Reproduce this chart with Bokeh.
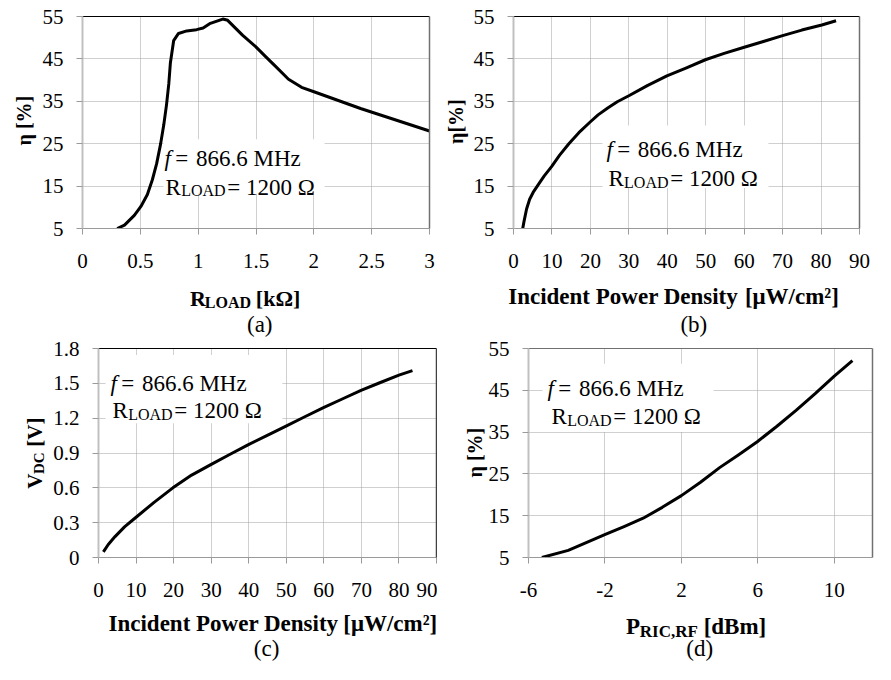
import math
from bokeh.plotting import figure
from bokeh.models import Range1d, FixedTicker, LinearAxis, Label, GridBox
from bokeh.layouts import row, column
from bokeh.embed import file_html
from bokeh.resources import INLINE

# ---------------- data ----------------
# (a) efficiency vs load resistance
a_rload = [0.30, 0.363, 0.448, 0.505, 0.561, 0.604, 0.641, 0.675, 0.703, 0.726, 0.746,
           0.760, 0.788, 0.830, 0.901, 0.986, 1.043, 1.099, 1.213, 1.255, 1.383, 1.497,
           1.581, 1.667, 1.781, 1.894, 2.007, 2.404, 3.0]
a_eta = [5.0, 5.8, 8.1, 10.2, 13.0, 16.5, 20.3, 24.9, 29.5, 34.1, 39.1,
         44.1, 49.3, 51.0, 51.6, 51.9, 52.3, 53.3, 54.4, 54.1, 50.6, 47.9,
         45.6, 43.3, 40.2, 38.3, 37.2, 33.3, 28.0]
# (b) efficiency vs incident power density
b_pd = [2.4, 2.7, 3.4, 4.2, 5.1, 6.8, 8.0, 9.9, 12.0, 14.4, 17.0, 19.8, 22.0, 24.6, 27.0,
        30.0, 34.8, 39.9, 45.0, 49.9, 54.8, 59.8, 65.0, 70.0, 75.0, 80.2, 83.9]
b_eta = [5.0, 6.5, 9.6, 11.9, 13.5, 15.8, 17.4, 19.6, 22.3, 25.0, 27.6, 30.0, 31.8, 33.5,
         34.9, 36.3, 38.7, 41.0, 42.9, 44.8, 46.3, 47.7, 49.1, 50.5, 51.8, 53.0, 54.0]
# (c) DC voltage vs incident power density
c_pd = [1.3, 2.6, 4.4, 7.0, 9.6, 14.8, 19.8, 24.8, 29.9, 34.8, 39.8, 44.8, 49.8, 54.8,
        59.9, 64.9, 69.9, 74.9, 80.0, 83.6]
c_vdc = [0.048, 0.112, 0.18, 0.266, 0.336, 0.475, 0.60, 0.71, 0.80, 0.885, 0.97, 1.05,
         1.13, 1.21, 1.29, 1.365, 1.44, 1.505, 1.57, 1.61]
# (d) efficiency vs RF input power
d_prf = [-5.3, -3.92, -2.01, -1.0, 0.0, 1.0, 2.0, 3.0, 4.0, 5.0, 5.97, 7.0, 8.0, 9.0,
         10.0, 10.95]
d_eta = [5.0, 6.7, 10.5, 12.4, 14.4, 17.0, 19.8, 23.0, 26.5, 29.6, 32.7, 36.4, 40.2,
         44.2, 48.4, 52.1]

# ticks
a_xticks = [0, 0.5, 1, 1.5, 2, 2.5, 3]
a_xlabels = ["0", "0.5", "1", "1.5", "2", "2.5", "3"]
eta_ticks = [5, 15, 25, 35, 45, 55]
eta_labels = ["5", "15", "25", "35", "45", "55"]
pd_ticks = [0, 10, 20, 30, 40, 50, 60, 70, 80, 90]
pd_labels = ["0", "10", "20", "30", "40", "50", "60", "70", "80", "90"]
v_ticks = [0, 0.3, 0.6, 0.9, 1.2, 1.5, 1.8]
v_labels = ["0", "0.3", "0.6", "0.9", "1.2", "1.5", "1.8"]
d_xticks = [-6, -2, 2, 6, 10]
d_xlabels = ["-6", "-2", "2", "6", "10"]

FONT = "Liberation Serif"
PAGE_W, PAGE_H = 875, 664
SX, SY = PAGE_W / 891.0, PAGE_H / 680.0   # reference px -> page px


def X(v):
    return v * SX


def Y(v):
    return v * SY


# transparent overlay figure that holds all the texts, in page pixel coordinates
ov = figure(width=PAGE_W, height=PAGE_H, x_range=Range1d(0, PAGE_W),
            y_range=Range1d(PAGE_H, 0), x_axis_type=None, y_axis_type=None,
            output_backend="svg", toolbar_location=None, min_border=0)
ov.grid.visible = False
ov.outline_line_color = None
ov.background_fill_alpha = 0
ov.border_fill_alpha = 0


def put(rx, ry, text, size, style="normal", angle=0.0, align="left"):
    ov.add_layout(Label(x=X(rx), y=Y(ry), text=text, text_font=FONT,
                        text_font_size=f"{size}px", text_font_style=style,
                        text_color="black", angle=angle, text_align=align,
                        text_baseline="alphabetic"))


def make_fig(fig_rect, frame_rect, xr, yr, xt, xl, yt, yl, top_col, right_col):
    x0, x1, y0, y1 = [round(v) for v in (X(fig_rect[0]), X(fig_rect[1]),
                                           Y(fig_rect[2]), Y(fig_rect[3]))]
    fl, fr, ft, fb = [round(v) for v in (X(frame_rect[0]), X(frame_rect[1]),
                                           Y(frame_rect[2]), Y(frame_rect[3]))]
    p = figure(width=x1 - x0, height=y1 - y0, x_range=Range1d(*xr), y_range=Range1d(*yr),
               output_backend="svg", toolbar_location=None,
               min_border_left=fl - x0, min_border_right=x1 - fr,
               min_border_top=ft - y0, min_border_bottom=y1 - fb)
    p.outline_line_color = None
    p.background_fill_color = "white"
    p.border_fill_color = "white"
    for ax, ticks, labels in ((p.xaxis[0], xt, xl), (p.yaxis[0], yt, yl)):
        ax.ticker = FixedTicker(ticks=ticks)
        ax.major_label_overrides = dict(zip(ticks, labels))
        ax.major_label_text_font = FONT
        ax.major_label_text_font_size = "21px"
        ax.major_label_text_color = "black"
        ax.major_tick_in = 0
        ax.major_tick_out = 6
        ax.minor_tick_in = 0
        ax.minor_tick_out = 0
        ax.major_tick_line_color = "#9a9a9a"
    p.xaxis.major_label_standoff = 19
    p.yaxis.major_label_standoff = 13
    p.xaxis.axis_line_color = "#9a9a9a"
    p.yaxis.axis_line_color = "#c0c0c0"
    p.yaxis.axis_line_width = 2
    p.xgrid.ticker = FixedTicker(ticks=xt)
    p.ygrid.ticker = FixedTicker(ticks=yt)
    for g in (p.xgrid[0], p.ygrid[0]):
        g.grid_line_color = "#a0a0a0"
        g.grid_line_dash = "1 1"
        g.grid_line_width = 1
    top = LinearAxis(ticker=FixedTicker(ticks=[]), axis_line_color=top_col,
                     major_tick_out=0, major_tick_in=0, minor_tick_out=0, minor_tick_in=0,
                     major_label_text_font_size="0px")
    right = LinearAxis(ticker=FixedTicker(ticks=[]), axis_line_color=right_col,
                       axis_line_width=1.5,
                       major_tick_out=0, major_tick_in=0, minor_tick_out=0, minor_tick_in=0,
                       major_label_text_font_size="0px")
    p.add_layout(top, "above")
    p.add_layout(right, "right")
    p._frame_px = (fl, fr, ft, fb)
    return p


def white_box(p, xr, yr, l, r, t, b):
    # box edges given in reference px; converted through the frame geometry
    fl, fr, ft, fb = p._frame_px
    cx = lambda v: xr[0] + (X(v) - fl) / (fr - fl) * (xr[1] - xr[0])
    cy = lambda v: yr[0] + (fb - Y(v)) / (fb - ft) * (yr[1] - yr[0])
    p.quad(left=[cx(l)], right=[cx(r)], top=[cy(t)], bottom=[cy(b)],
           fill_color="white", line_color=None)


def annot(fx, fy, rx, ry):
    put(fx, fy, "f", 23, "italic")
    put(fx + 11, fy, "=", 23)
    put(fx + 32, fy, "866.6 MHz", 23)
    put(rx, ry, "R", 23)
    put(rx + 16, ry + 4, "LOAD", 16)
    put(rx + 63, ry, "=", 23)
    put(rx + 82, ry, "1200 Ω", 23)


# (a)
A_XR, A_YR = (0, 3), (5, 55)
pa = make_fig((0, 445, 0, 335), (84, 437, 16, 233), A_XR, A_YR, a_xticks, a_xlabels,
              eta_ticks, eta_labels, "black", "#707070")
white_box(pa, A_XR, A_YR, 166, 330, 142, 198)
pa.line(a_rload, a_eta, line_color="black", line_width=3, line_join="round")

# (b)
B_XR, B_YR = (0, 90), (5, 55)
pb = make_fig((445, 891, 0, 335), (522, 875, 16, 233), B_XR, B_YR, pd_ticks, pd_labels,
              eta_ticks, eta_labels, "black", "#707070")
white_box(pb, B_XR, B_YR, 613, 782, 128, 192)
pb.line(b_pd, b_eta, line_color="black", line_width=3, line_join="round")

# (c)
C_XR, C_YR = (0, 90), (0, 1.8)
pc = make_fig((0, 445, 335, 680), (100, 444, 356, 570), C_XR, C_YR, pd_ticks, pd_labels,
              v_ticks, v_labels, "black", "#404040")
white_box(pc, C_XR, C_YR, 107, 287, 363, 433)
pc.line(c_pd, c_vdc, line_color="black", line_width=3, line_join="round")

# (d)
D_XR, D_YR = (-6, 12), (5, 55)
pd_ = make_fig((445, 891, 335, 680), (538, 888, 356, 570), D_XR, D_YR, d_xticks,
               d_xlabels, eta_ticks, eta_labels, "#707070", "#707070")
white_box(pd_, D_XR, D_YR, 552, 726, 372, 442)
pd_.line(d_prf, d_eta, line_color="black", line_width=3, line_join="round")

# ---- texts (reference pixel positions) ----
annot(167, 162, 168, 191)
annot(617, 153, 619, 182)
annot(112, 392, 114, 420)
annot(557, 397, 561, 426)

# x-axis titles
put(193, 305, "R", 22, "bold")
put(208, 309, "LOAD", 16, "bold")
put(260, 305, "[kΩ]", 22, "bold")
put(517, 303, "Incident Power Density", 23, "bold")
put(758, 303, "[μW/cm²]", 23, "bold")
put(110, 638, "Incident Power Density", 23, "bold")
put(349, 638, "[μW/cm²]", 23, "bold")
put(637, 641, "P", 23, "bold")
put(651, 646, "RIC,RF", 17, "bold")
put(716, 641, "[dBm]", 23, "bold")

# y-axis titles (rotated)
put(24, 123, "η [%]", 20, "bold", angle=math.pi / 2, align="center")
put(464, 124, "η[%]", 20, "bold", angle=math.pi / 2, align="center")
put(35, 500, "V", 21, "bold", angle=math.pi / 2)
put(39, 485, "DC", 15, "bold", angle=math.pi / 2)
put(35, 457, "[V]", 21, "bold", angle=math.pi / 2)
put(483, 463, "η [%]", 20, "bold", angle=math.pi / 2, align="center")

# panel captions
put(264, 332, "(a)", 23, align="center")
put(706, 332, "(b)", 23, align="center")
put(271, 664, "(c)", 23, align="center")
put(712, 664, "(d)", 23, align="center")

panels = column(row(pa, pb), row(pc, pd_))
layout = GridBox(children=[(panels, 0, 0), (ov, 0, 0)])
open("out.html", "w").write(file_html(layout, INLINE))
